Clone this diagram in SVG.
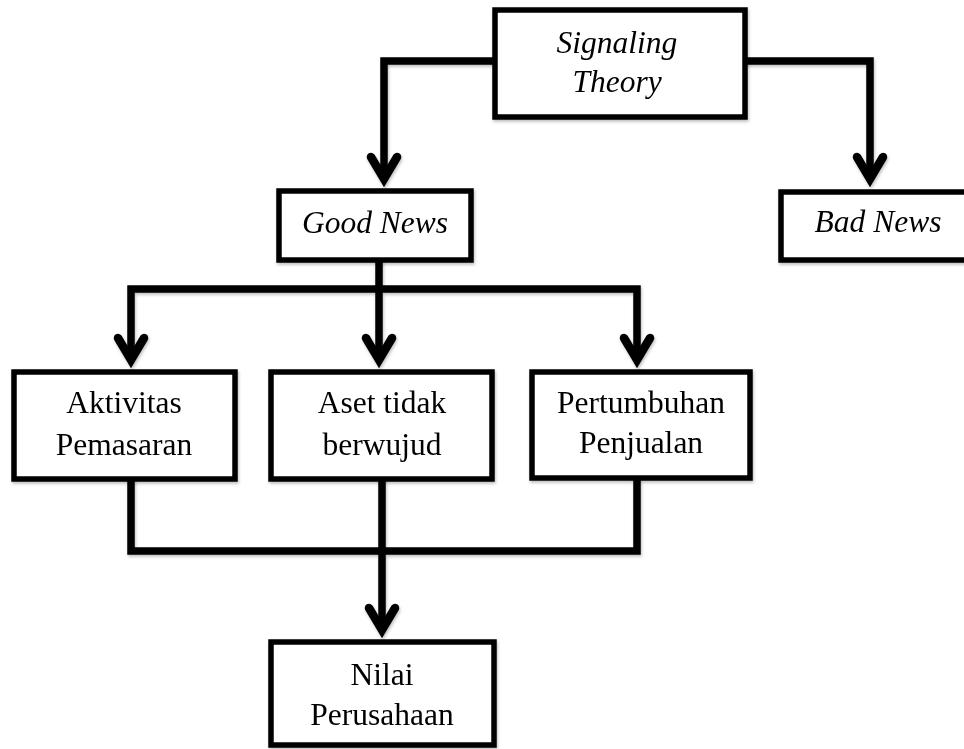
<svg xmlns="http://www.w3.org/2000/svg" xmlns:xlink="http://www.w3.org/1999/xlink" width="964" height="749" viewBox="0 0 964 749">
<style>
.box{fill:#fff;stroke:#000;stroke-width:5.5;stroke-linejoin:miter}
.t{font-family:"Liberation Serif","Times New Roman",serif;font-size:31.5px;fill:#000;text-anchor:middle}
.i{font-style:italic}
.c{fill:none;stroke:#000;stroke-width:7.5;stroke-linejoin:miter;stroke-linecap:butt}
.ah{fill:none;stroke:#000;stroke-width:8.5;stroke-linejoin:miter;stroke-miterlimit:10;stroke-linecap:round}
</style>
<defs>
<filter id="sh" x="-10%" y="-10%" width="120%" height="120%">
<feDropShadow dx="1" dy="2" stdDeviation="1.5" flood-color="#000" flood-opacity="0.25"/>
</filter>
<polyline id="ah" class="ah" points="-13,-32 0,-10 13,-32"/>
</defs>
<rect width="964" height="749" fill="#fff"/>
<g id="connectors" filter="url(#sh)">
<path class="c" d="M495 61 H384 V175"/>
<path class="c" d="M745 61 H870 V175"/>
<path class="c" d="M379 260 V357"/>
<path class="c" d="M131 357 V289 H637 V357"/>
<path class="c" d="M131 479 V551 H637 V479"/>
<path class="c" d="M382 479 V627"/>
<use xlink:href="#ah" x="384" y="189"/>
<use xlink:href="#ah" x="870" y="189"/>
<use xlink:href="#ah" x="131" y="370"/>
<use xlink:href="#ah" x="379" y="370"/>
<use xlink:href="#ah" x="637" y="370"/>
<use xlink:href="#ah" x="382" y="640"/>
</g>
<g id="signaling" filter="url(#sh)">
<rect class="box" x="495" y="10" width="250" height="107"/>
<text class="t i" x="617" y="53">Signaling</text>
<text class="t i" x="617" y="92">Theory</text>
</g>
<g id="goodnews" filter="url(#sh)">
<rect class="box" x="279" y="191" width="192" height="69"/>
<text class="t i" x="375" y="233">Good News</text>
</g>
<g id="badnews" filter="url(#sh)">
<rect class="box" x="781" y="192" width="200" height="68"/>
<text class="t i" x="878" y="232">Bad News</text>
</g>
<g id="aktivitas" filter="url(#sh)">
<rect class="box" x="14" y="372" width="221" height="107"/>
<text class="t" x="124" y="413">Aktivitas</text>
<text class="t" x="124" y="455">Pemasaran</text>
</g>
<g id="aset" filter="url(#sh)">
<rect class="box" x="271" y="372" width="221" height="107"/>
<text class="t" x="382" y="413">Aset tidak</text>
<text class="t" x="382" y="455">berwujud</text>
</g>
<g id="pertumbuhan" filter="url(#sh)">
<rect class="box" x="532" y="372" width="218" height="106"/>
<text class="t" x="641" y="413">Pertumbuhan</text>
<text class="t" x="641" y="453">Penjualan</text>
</g>
<g id="nilai" filter="url(#sh)">
<rect class="box" x="271" y="642" width="223" height="103"/>
<text class="t" x="382" y="685">Nilai</text>
<text class="t" x="382" y="725">Perusahaan</text>
</g>
</svg>
